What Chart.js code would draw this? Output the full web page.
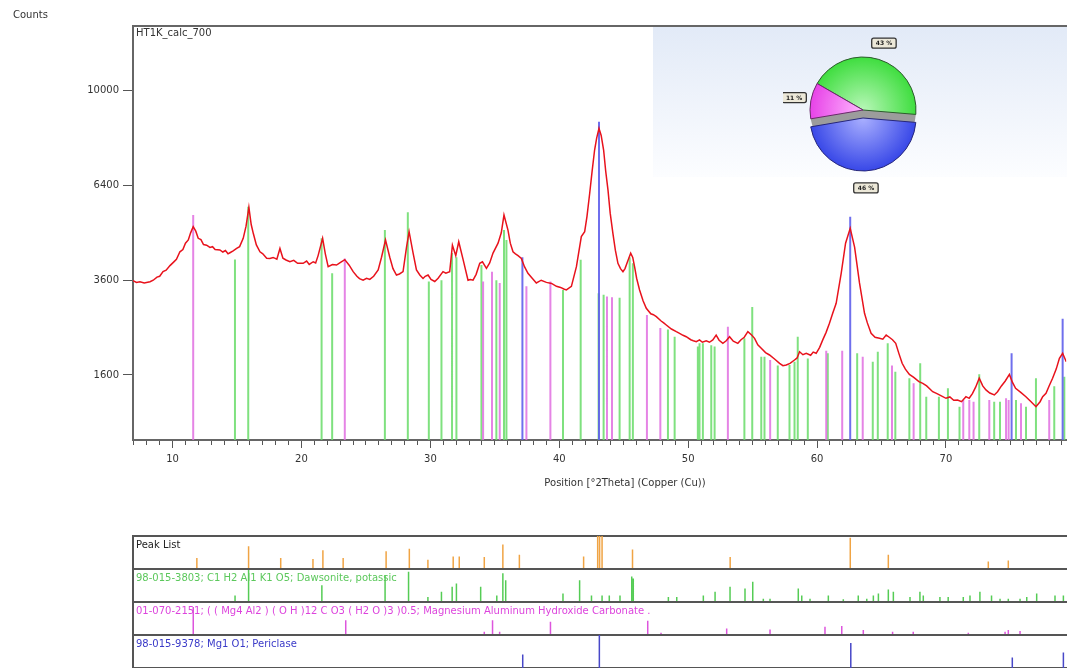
<!DOCTYPE html>
<html><head><meta charset="utf-8">
<script src="https://cdn.jsdelivr.net/npm/chart.js@4.4.0/dist/chart.umd.min.js"></script>
<style>
body{margin:0;background:#fff;width:1067px;height:668px;overflow:hidden;position:relative;font-family:"DejaVu Sans",sans-serif;}
.t{position:absolute;font-size:10px;line-height:12px;white-space:nowrap;}
canvas{position:absolute;}
</style></head><body>
<canvas id="main" width="1067" height="500" style="left:0;top:0"></canvas>
<div style="position:absolute;left:653px;top:27px;width:414px;height:150px;background:linear-gradient(#e2eaf7,#fcfdff);"></div>
<canvas id="pieA" width="160" height="180" style="left:783px;top:20px"></canvas>
<canvas id="pieB" width="160" height="180" style="left:783px;top:28px"></canvas>
<canvas id="p0" width="1067" height="37" style="left:0;top:534px"></canvas>
<canvas id="p1" width="1067" height="37" style="left:0;top:567px"></canvas>
<canvas id="p2" width="1067" height="37" style="left:0;top:600px"></canvas>
<canvas id="p3" width="1067" height="37" style="left:0;top:633px"></canvas>
<div class="t" style="left:13px;top:9px;color:#333">Counts</div>
<div class="t" style="left:136px;top:27px;color:#333">HT1K_calc_700</div>
<div class="t" style="left:625px;top:477px;transform:translateX(-50%);color:#333">Position [°2Theta] (Copper (Cu))</div>
<div class="t" style="left:136px;top:539px;color:#222">Peak List</div>
<div class="t" style="left:136px;top:572px;color:#5cc85c">98-015-3803; C1 H2 Al1 K1 O5; Dawsonite, potassic</div>
<div class="t" style="left:136px;top:605px;color:#dd44dd">01-070-2151; ( ( Mg4 Al2 ) ( O H )12 C O3 ( H2 O )3 )0.5; Magnesium Aluminum Hydroxide Carbonate .</div>
<div class="t" style="left:136px;top:638px;color:#3a3ac8">98-015-9378; Mg1 O1; Periclase</div>
<script>
// ---------------- DATA ----------------
const xMin = 6.93, xMax = 79.33, yMin = 690, yMax = 12920;
const yTickValues = [1600, 3600, 6400, 10000];

// measured pattern (°2Theta, counts)
const xrdPos = [6.93,7.2,7.47,7.8,8.25,8.5,8.79,9.0,9.26,9.5,9.8,10.1,10.3,10.57,10.8,11.0,11.22,11.4,11.6,11.8,11.99,12.2,12.4,12.64,12.9,13.1,13.3,13.67,13.9,14.1,14.3,14.45,14.7,14.97,15.2,15.48,15.7,15.92,16.1,16.26,16.5,16.78,17.0,17.3,17.55,17.8,18.09,18.33,18.56,18.8,19.1,19.4,19.7,20.13,20.4,20.6,20.91,21.1,21.29,21.64,21.85,22.07,22.4,22.72,23.0,23.36,23.7,24.01,24.3,24.5,24.78,25.05,25.3,25.6,25.95,26.21,26.52,26.85,27.1,27.37,27.6,27.88,28.15,28.35,28.66,28.92,29.18,29.43,29.6,29.82,30.05,30.34,30.6,30.98,31.2,31.5,31.71,31.97,32.2,32.54,32.92,33.1,33.31,33.55,33.83,34.04,34.35,34.6,34.86,35.25,35.5,35.71,36.02,36.2,36.41,36.6,36.8,37.06,37.3,37.57,37.9,38.22,38.6,39.0,39.4,39.78,40.1,40.35,40.55,40.94,41.33,41.71,41.97,42.15,42.36,42.55,42.74,42.9,43.08,43.25,43.44,43.6,43.78,43.95,44.16,44.35,44.55,44.75,44.94,45.1,45.25,45.54,45.7,45.84,46.0,46.23,46.5,46.75,47.1,47.3,47.53,47.9,48.1,48.3,48.7,49.08,49.33,49.6,49.85,50.2,50.4,50.63,50.88,51.1,51.4,51.65,51.91,52.17,52.4,52.69,52.95,53.21,53.5,53.85,54.1,54.35,54.63,54.9,55.15,55.4,55.67,56.0,56.31,56.7,57.09,57.35,57.61,57.9,58.25,58.45,58.64,58.9,59.16,59.5,59.7,59.93,60.2,60.44,60.7,60.96,61.2,61.48,61.87,62.21,62.57,62.91,63.29,63.68,63.9,64.19,64.5,64.84,65.1,65.36,65.6,65.85,66.1,66.35,66.6,66.85,67.16,67.5,67.9,68.2,68.5,68.97,69.3,69.6,70.0,70.3,70.6,70.9,71.2,71.55,71.8,72.05,72.3,72.58,72.85,73.1,73.4,73.75,74.0,74.3,74.6,74.92,75.15,75.4,75.8,76.2,76.6,76.98,77.3,77.5,77.76,78.0,78.27,78.55,78.8,79.05,79.33];
const xrdCounts = [3590,3545,3560,3530,3560,3600,3680,3700,3820,3860,3980,4080,4150,4356,4420,4600,4692,4900,5083,4950,4740,4700,4560,4543,4480,4500,4420,4409,4350,4390,4300,4330,4380,4449,4500,4740,5100,5685,5150,4886,4550,4356,4300,4180,4173,4200,4150,4449,4180,4130,4083,4120,4040,4041,4100,4010,4083,4050,4250,4740,4300,3950,4010,3994,4060,4140,3990,3820,3700,3640,3600,3650,3620,3700,3864,4206,4692,4206,3900,3733,3760,3820,4485,4934,4320,3864,3733,3643,3700,3733,3620,3568,3650,3820,3780,3820,4543,4250,4641,4140,3600,3620,3600,3750,4041,4083,3908,4050,4320,4600,4900,5441,4982,4600,4356,4300,4250,4173,3950,3776,3650,3531,3600,3545,3520,3447,3420,3380,3357,3447,3950,4788,4934,5400,6139,6900,7653,8100,8475,8200,7653,6900,6243,5500,4886,4400,4041,3900,3820,3900,4041,4320,4200,3950,3650,3357,3100,2924,2800,2780,2735,2640,2600,2555,2470,2414,2380,2340,2311,2250,2230,2211,2247,2200,2230,2200,2247,2344,2240,2178,2230,2311,2220,2178,2250,2300,2414,2350,2278,2150,2082,2000,1955,1880,1803,1760,1773,1800,1863,1900,2016,1960,1987,1950,2010,1987,2100,2247,2400,2591,2800,3039,3777,4600,5035,4485,3531,2811,2600,2380,2300,2278,2260,2344,2300,2250,2178,1980,1803,1700,1610,1560,1489,1460,1420,1330,1300,1270,1230,1250,1200,1205,1180,1254,1230,1300,1400,1545,1420,1357,1310,1280,1330,1420,1500,1610,1480,1383,1320,1254,1180,1109,1180,1254,1305,1420,1545,1700,1892,1987,1832];

// reference sticks in the main plot (°2Theta, counts)
const dawPos = [14.84,15.87,21.56,22.38,26.47,28.25,29.88,30.86,31.68,32.02,33.96,35.12,35.71,35.90,40.29,41.66,43.05,43.44,44.68,45.46,45.71,48.43,48.95,50.75,50.88,51.14,51.79,52.05,54.36,54.97,55.67,55.92,56.95,57.86,58.25,58.50,59.28,60.83,63.11,64.32,64.71,65.48,66.07,67.16,68.00,68.47,69.45,70.15,71.05,72.58,73.74,74.19,75.43,76.21,76.98,78.40,79.18];
const dawCounts = [4147,5700,4740,3776,4985,5525,3568,3600,4320,4206,3994,3600,4985,4692,3357,4140,3278,3240,3170,4206,4041,2460,2311,2115,2178,2178,2140,2115,2278,2955,1923,1923,1763,1773,1832,2311,1892,1987,1987,1832,2016,2178,1656,1545,1803,1254,1254,1383,1109,1610,1180,1180,1205,1109,1545,1414,1571];
const mgalPos = [11.60,23.36,34.09,34.78,35.38,37.45,39.31,43.70,44.09,46.80,47.84,53.08,56.36,60.71,61.95,63.54,65.81,67.49,71.34,71.81,72.14,73.36,74.66,74.86,75.82,78.01];
const mgalCounts = [5442,4173,3568,3820,3531,3447,3568,3200,3180,2775,2490,2516,1863,2035,2035,1923,1763,1462,1205,1205,1180,1205,1230,1205,1159,1205];
const perPos = [37.14,43.08,62.57,75.09,79.05];
const perCounts = [4206,8735,5389,1987,2691];

// lower panels (°2Theta, relative height %)
const peakPos = [11.88,15.89,18.38,20.88,21.65,23.22,26.55,28.35,29.79,31.75,32.22,34.16,35.60,36.88,41.86,42.95,43.10,43.29,45.65,53.22,62.53,65.48,73.23,74.78];
const peakRel = [33,69,33,30,57,33,54,61,28,38,38,36,74,43,38,100,100,100,59,36,95,43,23,26];
const dawPanelPos = [14.84,15.89,21.57,26.47,28.29,29.79,30.84,31.67,32.00,33.88,35.13,35.60,35.82,40.26,41.55,42.47,43.29,43.85,44.68,45.59,45.71,48.43,49.08,51.14,52.05,53.21,54.37,54.97,55.79,56.31,58.50,58.77,59.41,60.83,61.99,63.15,63.81,64.32,64.71,65.48,65.87,67.16,67.93,68.19,69.48,70.12,71.29,71.81,72.58,73.48,74.14,74.78,75.69,76.21,76.98,78.40,79.05];
const dawPanelRel = [20,97,51,82,92,15,31,46,56,46,20,87,66,26,66,20,20,20,20,77,71,15,15,20,31,46,41,61,10,10,41,20,10,20,8,20,10,20,26,38,31,15,31,20,15,15,15,20,31,20,10,10,10,15,26,20,20];
const mgalPanelPos = [11.60,23.42,34.16,34.80,35.35,39.29,46.83,47.86,52.95,56.31,60.57,61.87,63.54,65.81,67.41,71.68,74.53,74.78,75.69];
const mgalPanelRel = [85,45,10,45,10,40,43,7,20,17,25,27,15,10,10,7,10,15,12];
const perPanelPos = [37.14,43.08,62.57,75.09,79.05];
const perPanelRel = [41,100,76,32,47];

// phase fractions (%)
const phaseNames = ['Dawsonite, potassic','Periclase','Magnesium Aluminum Hydroxide Carbonate'];
const phaseFractions = [43, 46, 11];

// ---------------- CHART ----------------
Chart.defaults.font.family = 'DejaVu Sans';
Chart.defaults.font.size = 10;

class SqrtScale extends Chart.LinearScale {
  getPixelForValue(v) {
    if (v === null || v === undefined || isNaN(v)) return NaN;
    const a = Math.sqrt(this.min), b = Math.sqrt(this.max);
    return this.getPixelForDecimal((Math.sqrt(Math.max(v, 0)) - a) / (b - a));
  }
  getValueForPixel(p) {
    const a = Math.sqrt(this.min), b = Math.sqrt(this.max);
    const s = a + this.getDecimalForPixel(p) * (b - a);
    return s * s;
  }
}
SqrtScale.id = 'sqrt';
SqrtScale.defaults = Chart.LinearScale.defaults;
Chart.register(SqrtScale);

function sticks(pos, h, base) {
  const out = [];
  pos.forEach((p, i) => { out.push({x: p, y: base}, {x: p, y: h[i]}, {x: p, y: null}); });
  return out;
}
const isMajor = v => Math.abs(v - Math.round(v / 10) * 10) < 1e-6;
const lineBase = {pointRadius: 0, tension: 0, spanGaps: false, borderCapStyle: 'butt'};

new Chart(document.getElementById('main'), {
  type: 'line',
  data: {datasets: [
    Object.assign({data: xrdPos.map((x, i) => ({x, y: xrdCounts[i]})), borderColor: '#e8121c', borderWidth: 1.5}, lineBase),
    Object.assign({data: sticks(perPos, perCounts, yMin), borderColor: 'rgba(95,95,235,0.9)', borderWidth: 2}, lineBase),
    Object.assign({data: sticks(mgalPos, mgalCounts, yMin), borderColor: 'rgba(225,110,225,0.85)', borderWidth: 2}, lineBase),
    Object.assign({data: sticks(dawPos, dawCounts, yMin), borderColor: 'rgba(105,220,105,0.85)', borderWidth: 2}, lineBase)
  ]},
  options: {
    responsive: false, animation: false, devicePixelRatio: 1,
    layout: {padding: {top: 26, left: 0, right: 0, bottom: 0}},
    plugins: {legend: {display: false}, tooltip: {enabled: false}},
    scales: {
      x: {type: 'linear', position: 'bottom', min: xMin, max: xMax, bounds: 'data',
        afterBuildTicks: s => { const t = []; for (let v = Math.ceil(xMin); v <= Math.floor(xMax); v++) t.push({value: v}); s.ticks = t; },
        ticks: {autoSkip: false, maxRotation: 0, padding: 5, color: '#333',
          callback: v => isMajor(v) ? String(Math.round(v)) : ''},
        grid: {display: true, drawOnChartArea: false, drawTicks: true, tickLength: 8, tickColor: '#555', tickWidth: 1,
          tickBorderDash: c => (c.tick && isMajor(c.tick.value)) ? [] : [4, 40]},
        border: {display: true, color: '#666', width: 2},
        afterFit: s => { s.height = 60; }},
      xt: {type: 'linear', position: 'top', min: xMin, max: xMax, bounds: 'data',
        ticks: {display: false}, grid: {display: true, drawOnChartArea: false, drawTicks: false},
        border: {display: true, color: '#666', width: 2},
        afterFit: s => { s.height = 0; }},
      y: {type: 'sqrt', position: 'left', min: yMin, max: yMax, bounds: 'data',
        afterBuildTicks: s => { s.ticks = yTickValues.map(v => ({value: v})); },
        ticks: {color: '#333', padding: 4, callback: v => String(v)},
        grid: {display: true, drawOnChartArea: false, drawTicks: true, tickLength: 10, tickColor: '#555'},
        border: {display: true, color: '#666', width: 2},
        afterFit: s => { s.width = 133; }}
    }
  }
});

// lower stick panels
function panel(id, pos, rel, color) {
  new Chart(document.getElementById(id), {
    type: 'line',
    data: {datasets: [Object.assign({data: sticks(pos, rel, 0), borderColor: color, borderWidth: 1.5}, lineBase)]},
    options: {
      responsive: false, animation: false, devicePixelRatio: 1,
      layout: {padding: {top: 2, bottom: 2, left: 0, right: 0}},
      plugins: {legend: {display: false}, tooltip: {enabled: false}},
      scales: {
        x: {type: 'linear', min: xMin, max: xMax, bounds: 'data', display: false},
        y: {type: 'linear', min: 0, max: 100, bounds: 'data',
          afterBuildTicks: s => { s.ticks = [{value: 0}, {value: 100}]; },
          ticks: {display: false},
          grid: {display: true, drawOnChartArea: true, drawTicks: false, color: '#555', lineWidth: 2},
          border: {display: true, color: '#555', width: 2},
          afterFit: s => { s.width = 133; }}
      }
    }
  });
}
panel('p0', peakPos, peakRel, '#f0a444');
panel('p1', dawPanelPos, dawPanelRel, '#55cc55');
panel('p2', mgalPanelPos, mgalPanelRel, '#dd55dd');
panel('p3', perPanelPos, perPanelRel, '#4848c8');

// phase pie: layer A = upper slices + grey body, layer B = exploded lower slice
const pieLight = ['#b8f7b8', '#aab0ff', '#ffb8ff'];
const pieDark = ['#38dc38', '#3242e6', '#e63ce6'];
const pieBorder = ['#2c5c2c', '#26267a', '#6a2a6a'];
function pieDeco(showIdx, drawBody) {
  return {
    id: 'pieDeco',
    beforeDatasetsDraw(chart) {
      if (!drawBody) return;
      const arc = chart.getDatasetMeta(0).data[0];
      const ctx = chart.ctx;
      ctx.save();
      ctx.beginPath();
      ctx.arc(arc.x, arc.y, arc.outerRadius, 0, Math.PI * 2);
      ctx.fillStyle = '#9c9c9c';
      ctx.fill();
      ctx.restore();
    },
    afterDatasetsDraw(chart) {
      const ctx = chart.ctx;
      const ds = chart.data.datasets[0];
      chart.getDatasetMeta(0).data.forEach((arc, i) => {
        if (!showIdx.includes(i)) return;
        const mid = (arc.startAngle + arc.endAngle) / 2;
        const r = arc.outerRadius + 17;
        const cx = arc.x + Math.cos(mid) * r, cy = arc.y + Math.sin(mid) * r;
        const txt = ds.data[i] + ' %';
        ctx.save();
        ctx.font = 'bold 6px "DejaVu Sans"';
        const w = ctx.measureText(txt).width + 8, h = 10;
        ctx.beginPath();
        ctx.roundRect(cx - w / 2, cy - h / 2, w, h, 2);
        ctx.fillStyle = '#ece8d8';
        ctx.fill();
        ctx.lineWidth = 1.3;
        ctx.strokeStyle = '#333';
        ctx.stroke();
        ctx.fillStyle = '#222';
        ctx.textAlign = 'center';
        ctx.textBaseline = 'middle';
        ctx.fillText(txt, cx, cy + 0.5);
        ctx.restore();
      });
    }
  };
}
function pieLayer(id, showIdx, drawBody) {
  new Chart(document.getElementById(id), {
    type: 'pie',
    data: {labels: phaseNames, datasets: [{
      data: phaseFractions,
      backgroundColor: c => {
        if (!showIdx.includes(c.dataIndex)) return 'rgba(0,0,0,0)';
        const chart = c.chart, ca = chart.chartArea;
        if (!ca) return pieDark[c.dataIndex];
        const cx = (ca.left + ca.right) / 2, cy = (ca.top + ca.bottom) / 2;
        const g = chart.ctx.createRadialGradient(cx, cy, 0, cx, cy, 56);
        g.addColorStop(0, pieLight[c.dataIndex]);
        g.addColorStop(1, pieDark[c.dataIndex]);
        return g;
      },
      borderColor: c => showIdx.includes(c.dataIndex) ? pieBorder[c.dataIndex] : 'rgba(0,0,0,0)',
      borderWidth: 1
    }]},
    options: {
      responsive: false, animation: false, devicePixelRatio: 1,
      rotation: -60, radius: 53,
      plugins: {legend: {display: false}, tooltip: {enabled: false}}
    },
    plugins: [pieDeco(showIdx, drawBody)]
  });
}
pieLayer('pieA', [0, 2], true);
pieLayer('pieB', [1], false);
</script>
</body></html>
